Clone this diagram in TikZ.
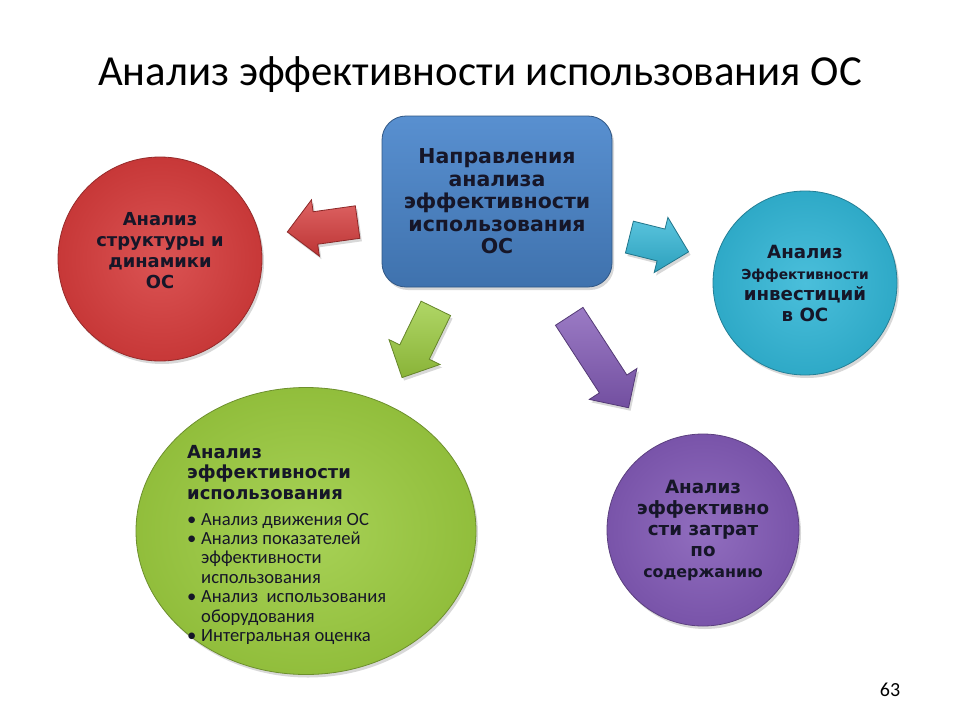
\documentclass[tikz,border=0pt]{standalone}
\usepackage{fontspec}
\setmainfont{Carlito}
\newfontfamily\dvfont{DejaVu Sans}
\usetikzlibrary{shapes.geometric,shapes.arrows,shadows,positioning}

\definecolor{boxblue}{RGB}{74,134,204}
\definecolor{ballred}{RGB}{214,60,60}
\definecolor{ballcyan}{RGB}{50,182,214}
\definecolor{ballgreen}{RGB}{156,204,64}
\definecolor{ballviolet}{RGB}{130,90,182}
\definecolor{ink}{RGB}{22,22,40}
\newcommand{\bul}{\makebox[14pt][l]{\textbullet}}
\newcommand{\ind}{\hspace*{14pt}}

\begin{document}
\begin{tikzpicture}[
    x=1pt, y=-1pt,
    every node/.style={align=center, text=ink},
    softshadow/.style={drop shadow={opacity=0.3, shadow xshift=2pt, shadow yshift=-3pt}},
    ball/.style={circle, draw=#1!70!black, thick, inner sep=0pt,
      inner color=#1!88!white, outer color=#1!93!black, softshadow},
    blockarrow/.style={single arrow, draw=#1!65!black, thick, anchor=tail,
      inner xsep=0pt, inner ysep=16pt, single arrow head extend=12pt,
      top color=#1!80!white, bottom color=#1!88!black, softshadow},
    ballfont/.style={font=\dvfont\bfseries\fontsize{#1}{21}\selectfont}
  ]

    % фон и размер
    \fill[white] (0,0) rectangle (960,720);
    \useasboundingbox (0,0) rectangle (960,720);

    % заголовок
    \node[font=\fontsize{42.8}{46}\selectfont, text=black] (title) at (480,75)
      {Анализ эффективности использования ОС};

    % центральный блок
    \node[draw=boxblue!65!black, thick, rounded corners=24pt,
      top color=boxblue!92!white, bottom color=boxblue!85!black, softshadow,
      minimum width=230pt, minimum height=171pt,
      font=\dvfont\bfseries\fontsize{20.5}{22.5}\selectfont] (dir) at (497,201.5)
      {Направления\\анализа\\эффективности\\использования\\ОС};

    % круги
    \node[ball=ballred, minimum size=204pt] (struct) at (160,259) {};
    \node[ballfont=17.9] (structtxt) at ([shift={(0,-8)}]struct.center)
      {Анализ\\структуры и\\динамики\\ОС};

    \node[ball=ballcyan, minimum size=184pt, ballfont=18.2] (invest) at (805,283)
      {Анализ\\\fontsize{13.8}{21}\selectfont Эффективности\\инвестиций\\в ОС};

    \node[ball=ballviolet, minimum size=192pt, ballfont=18.3] (costs) at (703,530)
      {Анализ\\эффективно\\сти затрат\\по\\\fontsize{15.9}{21}\selectfont содержанию};

    \node[ball=ballgreen, ellipse, minimum width=340pt, minimum height=287pt] (usage) at (306,531) {};
    \node[anchor=north west, align=left, inner sep=0pt,
      font=\dvfont\bfseries\fontsize{18}{20.5}\selectfont] (usagehead)
      at ([shift={(-119,-86)}]usage.center)
      {Анализ\\эффективности\\использования};
    \node[below=13pt of usagehead.south west, anchor=north west, align=left, inner sep=0pt,
      font=\fontsize{18.6}{19.4}\selectfont] (usagelist)
      {\bul Анализ движения ОС\\
       \bul Анализ показателей\\
       \ind эффективности\\
       \ind использования\\
       \bul Анализ\ \ использования\\
       \ind оборудования\\
       \bul Интегральная оценка};

    % стрелки
    \node[blockarrow=ballred, minimum height=71pt, rotate=188] (arrstruct) at (358,222) {};
    \node[blockarrow=ballcyan, minimum height=61pt, rotate=-14] (arrinvest) at (629,237) {};
    \node[blockarrow=ballgreen, minimum height=77pt, rotate=-116] (arrusage) at (436,308) {};
    \node[blockarrow=ballviolet, minimum height=109pt, rotate=-57] (arrcosts) at (569,316) {};

    % номер слайда
    \node[font=\fontsize{20}{22}\selectfont, text=black] (page) at (890,690) {63};

  \end{tikzpicture}
\end{document}
